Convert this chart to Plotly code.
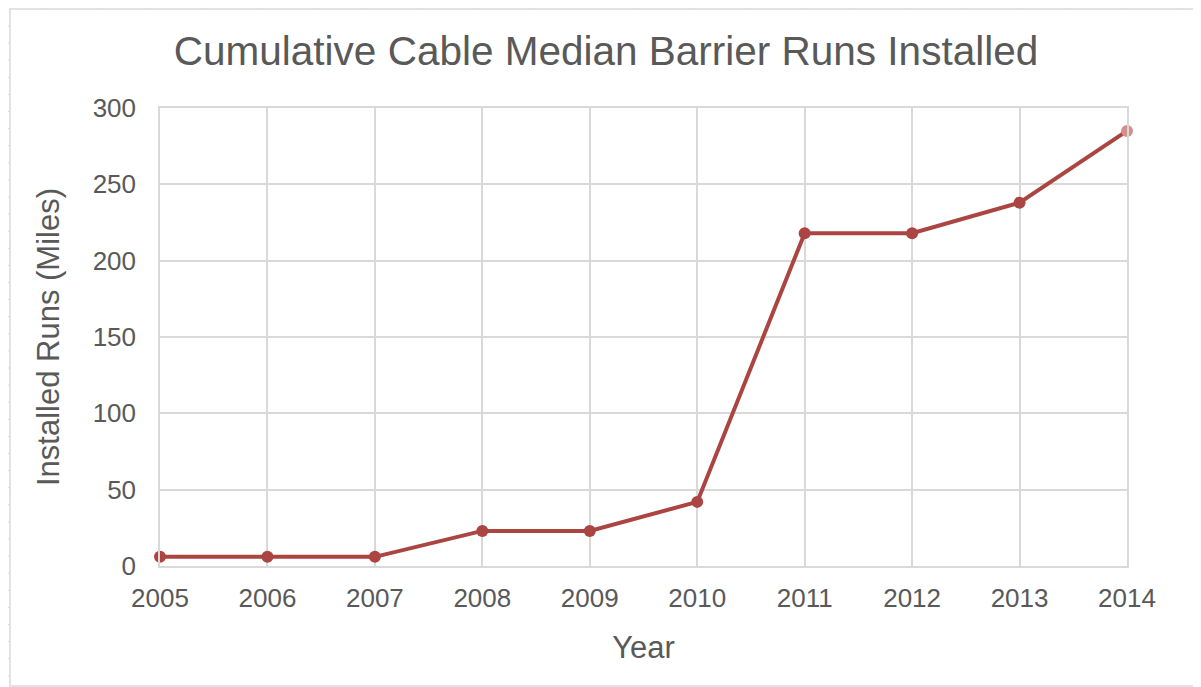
import plotly.graph_objects as go

years = [2005, 2006, 2007, 2008, 2009, 2010, 2011, 2012, 2013, 2014]
miles = [6, 6, 6, 23, 23, 42, 218, 218, 238, 285]
y_ticks = [0, 50, 100, 150, 200, 250, 300]

line_color = "#ab4542"
marker_colors = [line_color] * (len(years) - 1) + ["#d48f8d"]
text_color = "#595959"
grid_color = "#d9d9d9"
font_family = "Liberation Sans, Arial, sans-serif"

fig = go.Figure()
fig.add_trace(go.Scatter(
    x=years, y=miles, mode="lines+markers",
    line=dict(color=line_color, width=4),
    marker=dict(color=marker_colors, size=12),
    cliponaxis=False,
    showlegend=False,
))

# page is rendered with an 8px body margin
OFF = 8
PW, PH = 1201, 687
W, H = PW - OFF, PH - OFF
L, R, T, B = 160 - OFF, 74, 108 - OFF, 121
pw, ph = W - L - R, H - T - B

def px_x(x):
    return (x - OFF - L) / pw

def px_y(y):
    return (H - B - (y - OFF)) / ph

shapes = [dict(type="rect", xref="paper", yref="paper",
               x0=px_x(10), x1=px_x(1199), y0=px_y(686), y1=px_y(9),
               line=dict(color="#d9d9d9", width=1.5), layer="below")]
# ruler ticks along the frame edges
xt = 42
while xt < 1195:
    shapes.append(dict(type="line", xref="paper", yref="paper",
                       x0=px_x(xt), x1=px_x(xt), y0=px_y(9), y1=px_y(4),
                       line=dict(color="#d9d9d9", width=1)))
    xt += 54.2
yt = 26
while yt < 684:
    shapes.append(dict(type="line", xref="paper", yref="paper",
                       x0=px_x(5), x1=px_x(10), y0=px_y(yt), y1=px_y(yt),
                       line=dict(color="#d9d9d9", width=1)))
    yt += 17.1

fig.update_layout(
    width=W, height=H,
    margin=dict(l=L, r=R, t=T, b=B),
    paper_bgcolor="white", plot_bgcolor="white",
    font=dict(family=font_family, color=text_color),
    title=dict(text="Cumulative Cable Median Barrier Runs Installed",
               x=(606 - OFF) / W, xanchor="center", y=1 - (51 - OFF) / H, yanchor="middle",
               font=dict(size=40.5, color=text_color)),
    xaxis=dict(
        range=[2005, 2014], tickmode="array", tickvals=years,
        ticktext=[str(y) for y in years],
        showgrid=True, gridcolor=grid_color, gridwidth=1.5,
        showline=True, linecolor=grid_color, linewidth=1.5, mirror=True,
        zeroline=False, ticks="", ticklabelstandoff=8,
        tickfont=dict(size=26, color=text_color),
        title=dict(text="Year", font=dict(size=31, color=text_color), standoff=24),
    ),
    yaxis=dict(
        range=[0, 300], tickmode="array", tickvals=y_ticks,
        showgrid=True, gridcolor=grid_color, gridwidth=1.5,
        showline=True, linecolor=grid_color, linewidth=1.5, mirror=True,
        zeroline=False, ticks="", ticklabelstandoff=17,
        tickfont=dict(size=26, color=text_color),
        title=dict(text="Installed Runs (Miles)", font=dict(size=31, color=text_color), standoff=24),
    ),
    shapes=shapes,
)

fig.write_html("out.html")
